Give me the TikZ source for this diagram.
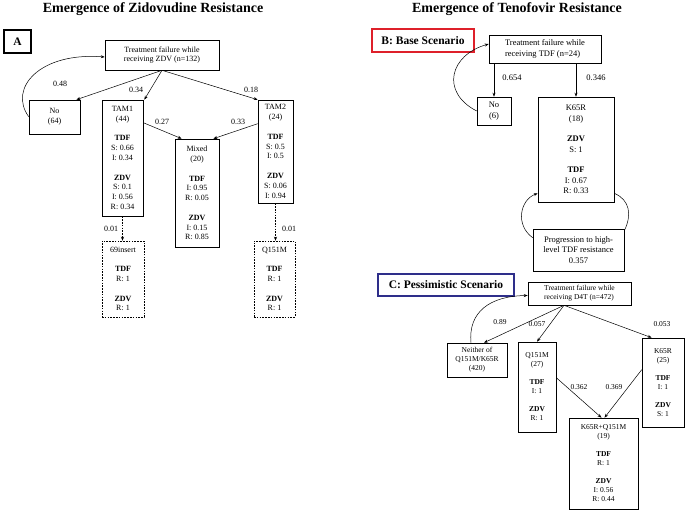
\documentclass[tikz,border=0pt]{standalone}
\usepackage{fontspec}
\setmainfont{Liberation Serif}
\usetikzlibrary{arrows.meta,calc}
\definecolor{redB}{RGB}{222,32,42}
\definecolor{blueC}{RGB}{46,46,138}
\newcommand{\fsA}{\fontsize{8}{9.8}\selectfont}
\newcommand{\fsB}{\fontsize{8.5}{10.5}\selectfont}
\newcommand{\fsC}{\fontsize{7.5}{9}\selectfont}
\tikzset{
  box/.style={draw, line width=0.6pt, align=center, inner sep=1pt},
  dbox/.style={box, line width=0.5pt, dash pattern=on 1.6pt off 1.2pt},
  lbl/.style={inner sep=0pt, font=\fsA},
  arr/.style={line width=0.5pt, -{Stealth[length=4pt,width=3pt]}},
  darr/.style={arr, dash pattern=on 1.6pt off 1.2pt},
  title/.style={font=\fontsize{14}{16}\selectfont\bfseries, inner sep=0pt},
  panel/.style={align=center, inner sep=0pt, font=\fontsize{11.5}{13}\selectfont\bfseries}
}
\begin{document}
\begin{tikzpicture}[x=1pt,y=-1pt]
\useasboundingbox[fill=white] (0,0) rectangle (688,514);

% titles
\node[title] (t1) at (153,9) {Emergence of Zidovudine Resistance};
\node[title] (t2) at (517,9) {Emergence of Tenofovir Resistance};

% ---------- A ----------
\node[panel, draw, line width=2.6pt, minimum width=27pt, minimum height=23pt] (pA) at (17.5,41.5) {A};
\node[box, font=\fsA, minimum width=114pt, minimum height=30pt] (zdv) at (162,55) {Treatment failure while\\receiving ZDV (n=132)};
\node[box, font=\fsA, minimum width=51pt, minimum height=34pt] (no64) at (54.5,117) {No\\(64)};
\node[box, font=\fsA, minimum width=41pt, minimum height=116pt] (tam1) at (122.5,158)
  {TAM1\\(44)\\[9.8pt]\textbf{TDF}\\S: 0.66\\I: 0.34\\[9.8pt]\textbf{ZDV}\\S: 0.1\\I: 0.56\\R: 0.34};
\node[box, font=\fsA, minimum width=35pt, minimum height=103pt] (tam2) at (275.5,151.5)
  {TAM2\\(24)\\[9.8pt]\textbf{TDF}\\S: 0.5\\I: 0.5\\[9.8pt]\textbf{ZDV}\\S: 0.06\\I: 0.94};
\node[box, font=\fsA, minimum width=44pt, minimum height=108pt] (mixed) at (197,193)
  {Mixed\\(20)\\[9.8pt]\textbf{TDF}\\I: 0.95\\R: 0.05\\[9.8pt]\textbf{ZDV}\\I: 0.15\\R: 0.85};
\node[dbox, font=\fsA, minimum width=42pt, minimum height=76pt] (ins) at (123,279)
  {69insert\\[9.8pt]\textbf{TDF}\\R: 1\\[9.8pt]\textbf{ZDV}\\R: 1};
\node[dbox, font=\fsA, minimum width=41pt, minimum height=76pt] (qA) at (274.5,279)
  {Q151M\\[9.8pt]\textbf{TDF}\\R: 1\\[9.8pt]\textbf{ZDV}\\R: 1};

\draw[arr] (zdv.south) -- ([xshift=-4pt]no64.north east);
\draw[arr] (zdv.south) -- ([xshift=1pt]tam1.north east);
\draw[arr] (zdv.south) -- (tam2.north west);
\draw[arr] ([yshift=-17pt]no64.north west) .. controls (8,88) and (40,52) .. ([yshift=-2pt]zdv.west);
\draw[arr] ([yshift=-23pt]tam1.north east) -- ([xshift=7pt]mixed.north west);
\draw[arr] ([yshift=-24pt]tam2.north west) -- ([xshift=-6pt]mixed.north east);
\draw[darr] (tam1.south) -- (tam1.south |- ins.north);
\draw[darr] (tam2.south) -- (tam2.south |- qA.north);

\node[lbl] (l048) at (60,84) {0.48};
\node[lbl] (l034) at (136,90) {0.34};
\node[lbl] (l018) at (251,90) {0.18};
\node[lbl] (l027) at (162,122) {0.27};
\node[lbl] (l033) at (238,122) {0.33};
\node[lbl] (l001a) at (111,229) {0.01};
\node[lbl] (l001b) at (289,229) {0.01};

% ---------- B ----------
\node[panel, draw=redB, line width=2.4pt, minimum width=102pt, minimum height=23pt] (pB) at (423,40.5) {B: Base Scenario};
\node[box, font=\fsB, align=left, minimum width=112pt, minimum height=28pt] (tdf) at (545,49) {Treatment failure while\\receiving TDF (n=24)};
\node[box, font=\fsB, minimum width=34pt, minimum height=28pt] (no6) at (494,111) {No\\(6)};
\node[box, font=\fsB, minimum width=76pt, minimum height=105pt] (k65b) at (576,149.5)
  {K65R\\(18)\\[10pt]\textbf{ZDV}\\S: 1\\[10pt]\textbf{TDF}\\I: 0.67\\R: 0.33};
\node[box, font=\fsB, minimum width=91pt, minimum height=42pt] (prog) at (578.5,250)
  {Progression to high-\\level TDF resistance\\0.357};

\draw[arr] (no6.north |- tdf.south) -- (no6.north);
\draw[arr] (k65b.north |- tdf.south) -- (k65b.north);
\draw[arr] (no6.west) .. controls (440,92) and (450,55) .. ([yshift=5pt]tdf.west);
\draw[arr] ([yshift=-9pt]prog.north west) .. controls (515,225) and (520,200) .. ([yshift=9pt]k65b.south west);
\draw[line width=0.5pt] ([yshift=9pt]k65b.south east) .. controls (630,200) and (632,215) .. ([yshift=-2pt]prog.north east);

\node[lbl, font=\fsB] (l654) at (512,78) {0.654};
\node[lbl, font=\fsB] (l346) at (596,78) {0.346};

% ---------- C ----------
\node[panel, draw=blueC, line width=2.4pt, minimum width=136pt, minimum height=22pt] (pC) at (446,285) {C: Pessimistic Scenario};
\node[box, font=\fsC, align=left, minimum width=103pt, minimum height=23pt] (d4t) at (579.5,293.5) {Treatment failure while\\receiving D4T (n=472)};
\node[box, font=\fsC, minimum width=60pt, minimum height=34pt] (nei) at (477,360) {Neither of\\Q151M/K65R\\(420)};
\node[box, font=\fsC, minimum width=38pt, minimum height=90pt] (qc) at (537,387)
  {Q151M\\(27)\\[9pt]\textbf{TDF}\\I: 1\\[9pt]\textbf{ZDV}\\R: 1};
\node[box, font=\fsC, minimum width=42pt, minimum height=89pt] (k65c) at (663,382.5)
  {K65R\\(25)\\[9pt]\textbf{TDF}\\I: 1\\[9pt]\textbf{ZDV}\\S: 1};
\node[box, font=\fsC, minimum width=69pt, minimum height=91pt] (kq) at (603.5,463.5)
  {K65R+Q151M\\(19)\\[9pt]\textbf{TDF}\\R: 1\\[9pt]\textbf{ZDV}\\I: 0.56\\R: 0.44};

\coordinate (d4ts) at ([xshift=-15.5pt]d4t.south);
\draw[arr] (d4ts) -- ([xshift=7pt]nei.north);
\draw[arr] (d4ts) -- (qc.north);
\draw[arr] (d4ts) -- ([xshift=10pt]k65c.north west);
\draw[arr] ([xshift=-6pt]nei.north) .. controls (468,312) and (490,296) .. ([yshift=-2pt]d4t.west);
\draw[arr] ([yshift=-36pt]qc.north east) -- ([xshift=-2pt]kq.north);
\draw[arr] ([yshift=-32pt]k65c.north west) -- ([xshift=1pt]kq.north);

\node[lbl, font=\fsC] (l089) at (500,322) {0.89};
\node[lbl, font=\fsC] (l057) at (537,324) {0.057};
\node[lbl, font=\fsC] (l053) at (662,324) {0.053};
\node[lbl, font=\fsC] (l362) at (579,387) {0.362};
\node[lbl, font=\fsC] (l369) at (614,387) {0.369};
\end{tikzpicture}
\end{document}
